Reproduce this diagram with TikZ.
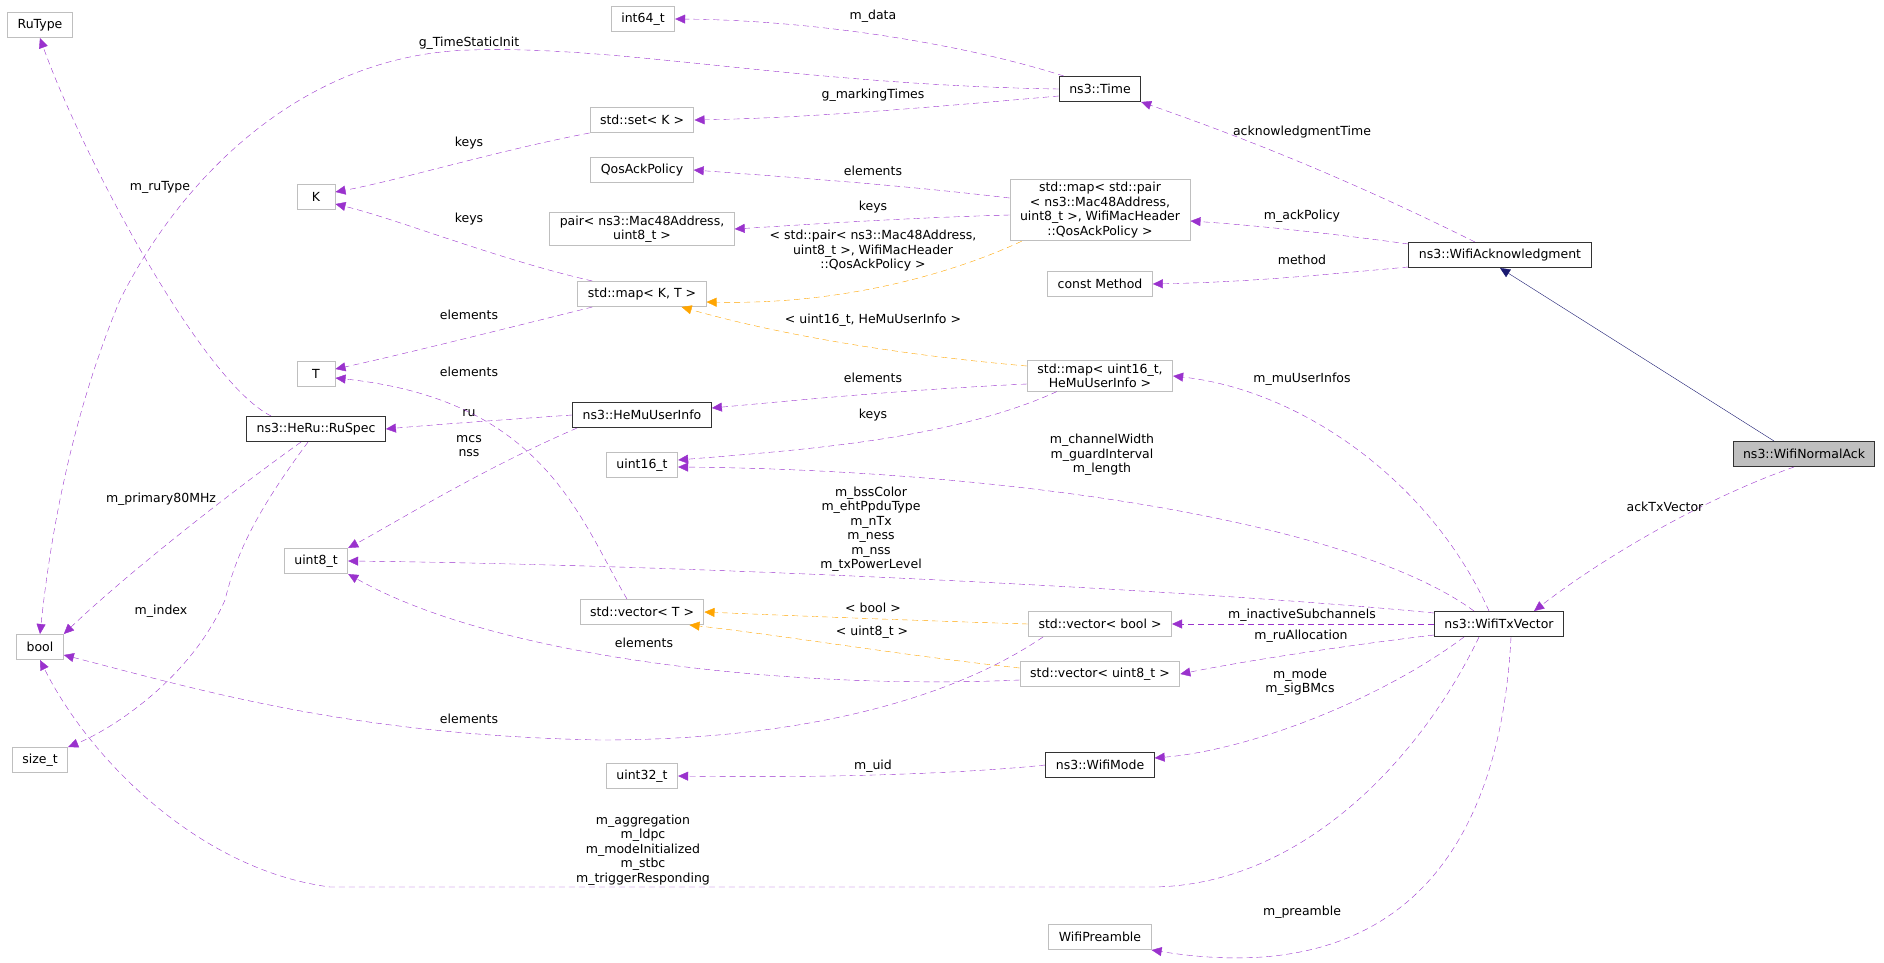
\documentclass[tikz,border=0pt]{standalone}
\usepackage{fontspec}
\setmainfont{DejaVu Sans}
\usetikzlibrary{arrows.meta}
\definecolor{depcol}{HTML}{9A32CD}
\definecolor{tplcol}{HTML}{FFA500}
\definecolor{inhcol}{HTML}{191970}
\definecolor{boxgray}{HTML}{BFBFBF}
\tikzset{
  cls/.style={draw=boxgray, line width=1pt, fill=white, inner xsep=10pt, inner ysep=3pt, minimum height=25pt, minimum width=38pt, align=center, font=\fontsize{12.5}{14.5}\selectfont},
  doc/.style={cls, draw=black!80},
  dep/.style={depcol, dashed, dash pattern=on 6pt off 4pt, -{Triangle[width=9pt,length=10pt]}},
  tpl/.style={dep, tplcol},
  inh/.style={inhcol, -{Triangle[width=9pt,length=10pt]}},
  lbl/.style={text=black, font=\fontsize{12.5}{14.5}\selectfont, align=center, inner sep=0pt},
}
\begin{document}
\begin{tikzpicture}[x=1pt, y=-1pt]
    \useasboundingbox (0,0) rectangle (1884,963);

    % Klassen
    \node[cls] (rutype) at (40,25) {RuType};
    \node[cls] (bool) at (40,647) {bool};
    \node[cls] (sizet) at (40,760) {size\_t};
    \node[cls] (k) at (316,197) {K};
    \node[cls] (t) at (316,374) {T};
    \node[doc] (ruspec) at (316,429) {ns3::HeRu::RuSpec};
    \node[cls] (u8) at (316,561) {uint8\_t};
    \node[cls] (int64) at (643,19) {int64\_t};
    \node[cls] (setk) at (642,120) {std::set< K >};
    \node[cls] (qos) at (642,170) {QosAckPolicy};
    \node[cls] (pair) at (642,229) {pair< ns3::Mac48Address,\\uint8\_t >};
    \node[cls] (mapkt) at (642,294) {std::map< K, T >};
    \node[doc] (hemu) at (642,415) {ns3::HeMuUserInfo};
    \node[cls] (u16) at (642,465) {uint16\_t};
    \node[cls] (vect) at (642,612) {std::vector< T >};
    \node[cls] (u32) at (642,776) {uint32\_t};
    \node[doc] (time) at (1100,89) {ns3::Time};
    \node[cls] (mappair) at (1100,210) {std::map< std::pair\\< ns3::Mac48Address,\\ uint8\_t >, WifiMacHeader\\::QosAckPolicy >};
    \node[cls] (method) at (1100,284) {const Method};
    \node[cls] (mapmu) at (1100,376) {std::map< uint16\_t,\\HeMuUserInfo >};
    \node[cls] (vecbool) at (1100,624) {std::vector< bool >};
    \node[cls] (vecu8) at (1100,674) {std::vector< uint8\_t >};
    \node[doc] (mode) at (1100,765) {ns3::WifiMode};
    \node[cls] (pre) at (1100,937) {WifiPreamble};
    \node[doc] (ack) at (1500,255) {ns3::WifiAcknowledgment};
    \node[doc] (txv) at (1499,624) {ns3::WifiTxVector};
    \node[doc, fill=boxgray] (normal) at (1804,454) {ns3::WifiNormalAck};

    % Vererbung
    \draw[inh] ([xshift=-30pt]normal.north) -- (ack.south);

    % ns3::Time
    \draw[dep] ([xshift=5pt]time.north west) .. controls (950,40) and (800,20) .. (int64.east) node[lbl] at (873,16) {m\_data};
    \draw[dep] (time.west) .. controls (800,85) and (620,45) .. (470,50) .. controls (300,55) and (180,180) .. (120,300) .. controls (70,420) and (50,540) .. (bool.north) node[lbl] at (469,43) {g\_TimeStaticInit};
    \draw[dep] (time.west |- 0,96) .. controls (900,110) and (800,118) .. (setk.east) node[lbl] at (873,95) {g\_markingTimes};
    \draw[dep] (setk.south west) .. controls (500,150) and (400,180) .. (k.east |- 0,192) node[lbl] at (469,143) {keys};

    % Maps
    \draw[dep] (mappair.west |- 0,198) .. controls (900,185) and (800,178) .. (qos.east) node[lbl] at (873,171) {elements};
    \draw[dep] (mappair.west |- 0,215) .. controls (900,218) and (800,225) .. (pair.east) node[lbl] at (873,207) {keys};
    \draw[tpl] ([xshift=12pt]mappair.south west) .. controls (960,270) and (850,305) .. (mapkt.east |- 0,302) node[lbl] at (873,251) {< std::pair< ns3::Mac48Address,\\uint8\_t >, WifiMacHeader\\::QosAckPolicy >};
    \draw[dep] ([xshift=15pt]mapkt.north west) .. controls (500,260) and (400,220) .. (k.east |- 0,204) node[lbl] at (469,219) {keys};
    \draw[dep] ([xshift=15pt]mapkt.south west) .. controls (500,330) and (400,355) .. (t.east |- 0,369) node[lbl] at (469,315) {elements};

    % ns3::WifiAcknowledgment
    \draw[dep] ([xshift=-25pt]ack.north) .. controls (1350,180) and (1250,140) .. (time.south east) node[lbl] at (1302,132) {acknowledgmentTime};
    \draw[dep] (ack.west |- 0,244) .. controls (1320,232) and (1250,225) .. (mappair.east |- 0,221) node[lbl] at (1302,216) {m\_ackPolicy};
    \draw[dep] (ack.west |- 0,267) .. controls (1320,275) and (1250,282) .. (method.east) node[lbl] at (1302,260) {method};

    % std::map< uint16_t, HeMuUserInfo >
    \draw[tpl] (mapmu.west |- 0,366) .. controls (900,355) and (780,335) .. ([xshift=-25pt]mapkt.south east) node[lbl] at (873,320) {< uint16\_t, HeMuUserInfo >};
    \draw[dep] (mapmu.west |- 0,384) .. controls (900,390) and (800,400) .. (hemu.east |- 0,408) node[lbl] at (873,378) {elements};
    \draw[dep] ([xshift=30pt]mapmu.south west) .. controls (950,440) and (800,450) .. (u16.east |- 0,460) node[lbl] at (873,415) {keys};

    % ns3::HeMuUserInfo
    \draw[dep] (hemu.west) .. controls (500,420) and (430,425) .. (ruspec.east) node[lbl] at (469,413) {ru};
    \draw[dep] ([xshift=5pt]hemu.south west) .. controls (480,470) and (400,520) .. (u8.north east) node[lbl] at (469,446) {mcs\\nss};

    % ns3::HeRu::RuSpec
    \draw[dep] ([xshift=25pt]ruspec.north west) .. controls (200,380) and (80,150) .. (rutype.south) node[lbl] at (160,187) {m\_ruType};
    \draw[dep] ([xshift=55pt]ruspec.south west) .. controls (220,500) and (120,580) .. (bool.north east) node[lbl] at (161,499) {m\_primary80MHz};
    \draw[dep] ([xshift=62pt]ruspec.south west) .. controls (250,520) and (235,560) .. (225,600) .. controls (190,680) and (110,730) .. (sizet.north east) node[lbl] at (161,611) {m\_index};

    % std::vector
    \draw[dep] ([xshift=-15pt]vect.north) .. controls (580,520) and (545,400) .. (t.east |- 0,378) node[lbl] at (469,372) {elements};
    \draw[tpl] (vecbool.west) .. controls (900,620) and (800,616) .. (vect.east) node[lbl] at (873,608) {< bool >};
    \draw[tpl] ([yshift=-7pt]vecu8.north west) .. controls (900,655) and (780,635) .. ([xshift=-15pt]vect.south east) node[lbl] at (872,632) {< uint8\_t >};
    \draw[dep] (vecu8.west |- 0,680) .. controls (800,690) and (500,660) .. (u8.south east) node[lbl] at (644,643) {elements};
    \draw[dep] ([xshift=15pt]vecbool.south west) .. controls (950,700) and (800,740) .. (600,740) .. controls (350,735) and (200,690) .. (bool.east |- 0,655) node[lbl] at (469,719) {elements};

    % ns3::WifiNormalAck
    \draw[dep] ([xshift=-10pt]normal.south) .. controls (1700,500) and (1600,560) .. ([xshift=-30pt]txv.north east) node[lbl] at (1665,507) {ackTxVector};

    % ns3::WifiTxVector
    \draw[dep] ([xshift=-10pt]txv.north) .. controls (1430,480) and (1300,390) .. (mapmu.east) node[lbl] at (1302,379) {m\_muUserInfos};
    \draw[dep] ([xshift=-25pt]txv.north) .. controls (1350,520) and (1000,470) .. (u16.east |- 0,467) node[lbl] at (1102,455) {m\_channelWidth\\m\_guardInterval\\m\_length};
    \draw[dep] ([yshift=-2pt]txv.north west) .. controls (1200,590) and (700,565) .. (u8.east) node[lbl] at (871,529) {m\_bssColor\\m\_ehtPpduType\\m\_nTx\\m\_ness\\m\_nss\\m\_txPowerLevel};
    \draw[dep] (txv.west) -- (vecbool.east) node[lbl] at (1302,615) {m\_inactiveSubchannels};
    \draw[dep] ([yshift=2pt]txv.south west) .. controls (1350,645) and (1250,660) .. (vecu8.east) node[lbl] at (1301,636) {m\_ruAllocation};
    \draw[dep] ([xshift=-35pt]txv.south) .. controls (1380,700) and (1250,750) .. (mode.east |- 0,758) node[lbl] at (1300,682) {m\_mode\\m\_sigBMcs};
    \draw[dep] ([xshift=-20pt]txv.south) .. controls (1420,760) and (1300,887) .. (1150,887) -- (330,887) .. controls (200,870) and (90,760) .. (bool.south) node[lbl] at (643,850) {m\_aggregation\\m\_ldpc\\m\_modeInitialized\\m\_stbc\\m\_triggerResponding};
    \draw[dep] ([xshift=12pt]txv.south) .. controls (1500,850) and (1400,990) .. (pre.south east) node[lbl] at (1302,912) {m\_preamble};

    % ns3::WifiMode
    \draw[dep] (mode.west) .. controls (950,775) and (800,778) .. (u32.east) node[lbl] at (873,766) {m\_uid};

  \end{tikzpicture}
\end{document}
